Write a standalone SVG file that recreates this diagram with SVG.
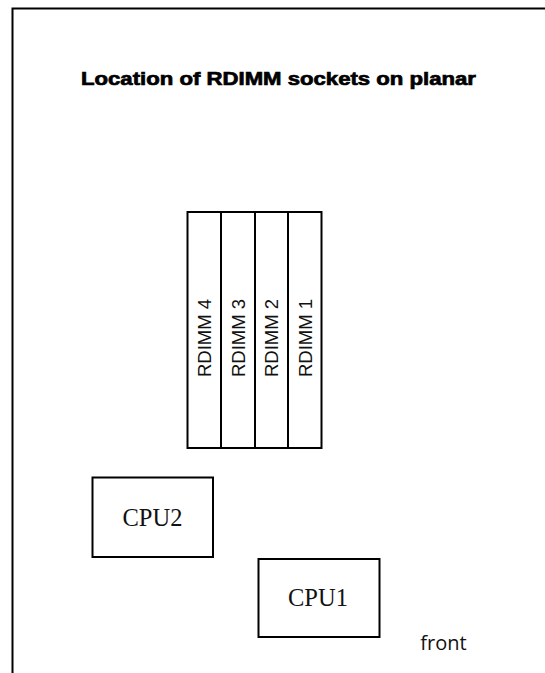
<svg xmlns="http://www.w3.org/2000/svg" width="545" height="673" viewBox="0 0 545 673">
<style>
.box{fill:none;stroke:#000;stroke-width:2}
.dimm{font-family:"Liberation Sans",Arial,sans-serif;font-size:18.5px;fill:#111;text-anchor:middle}
.cpu{font-family:"Liberation Serif","Times New Roman",serif;font-size:24.5px;fill:#111;text-anchor:middle}
</style>
<rect width="545" height="673" fill="#fff"/>
<g id="frame"><path d="M12.5 673 V8.5 H545" fill="none" stroke="#000" stroke-width="2"/></g>
<g id="title"><text x="278.5" y="85" font-family="'Liberation Sans',Arial,sans-serif" font-size="18.5" font-weight="900" stroke="#000" stroke-width="0.7" text-anchor="middle" textLength="395" lengthAdjust="spacingAndGlyphs">Location of RDIMM sockets on planar</text></g>
<g id="rdimm4"><rect class="box" x="187.5" y="212" width="33.5" height="236"/><text class="dimm" transform="translate(211,338) rotate(-90)">RDIMM 4</text></g>
<g id="rdimm3"><rect class="box" x="221" y="212" width="34" height="236"/><text class="dimm" transform="translate(244.5,338) rotate(-90)">RDIMM 3</text></g>
<g id="rdimm2"><rect class="box" x="255" y="212" width="33" height="236"/><text class="dimm" transform="translate(278,338) rotate(-90)">RDIMM 2</text></g>
<g id="rdimm1"><rect class="box" x="288" y="212" width="33.5" height="236"/><text class="dimm" transform="translate(311.5,338) rotate(-90)">RDIMM 1</text></g>
<g id="cpu2"><rect class="box" x="92.5" y="477.5" width="120.5" height="79.5"/><text class="cpu" x="152.5" y="526">CPU2</text></g>
<g id="cpu1"><rect class="box" x="258.5" y="559" width="121" height="78"/><text class="cpu" x="318" y="606">CPU1</text></g>
<g id="front"><text x="443.5" y="650" font-family="'Open Sans','Noto Sans',sans-serif" font-size="20" fill="#111" text-anchor="middle">front</text></g>
<g id="connectors"></g>
</svg>
